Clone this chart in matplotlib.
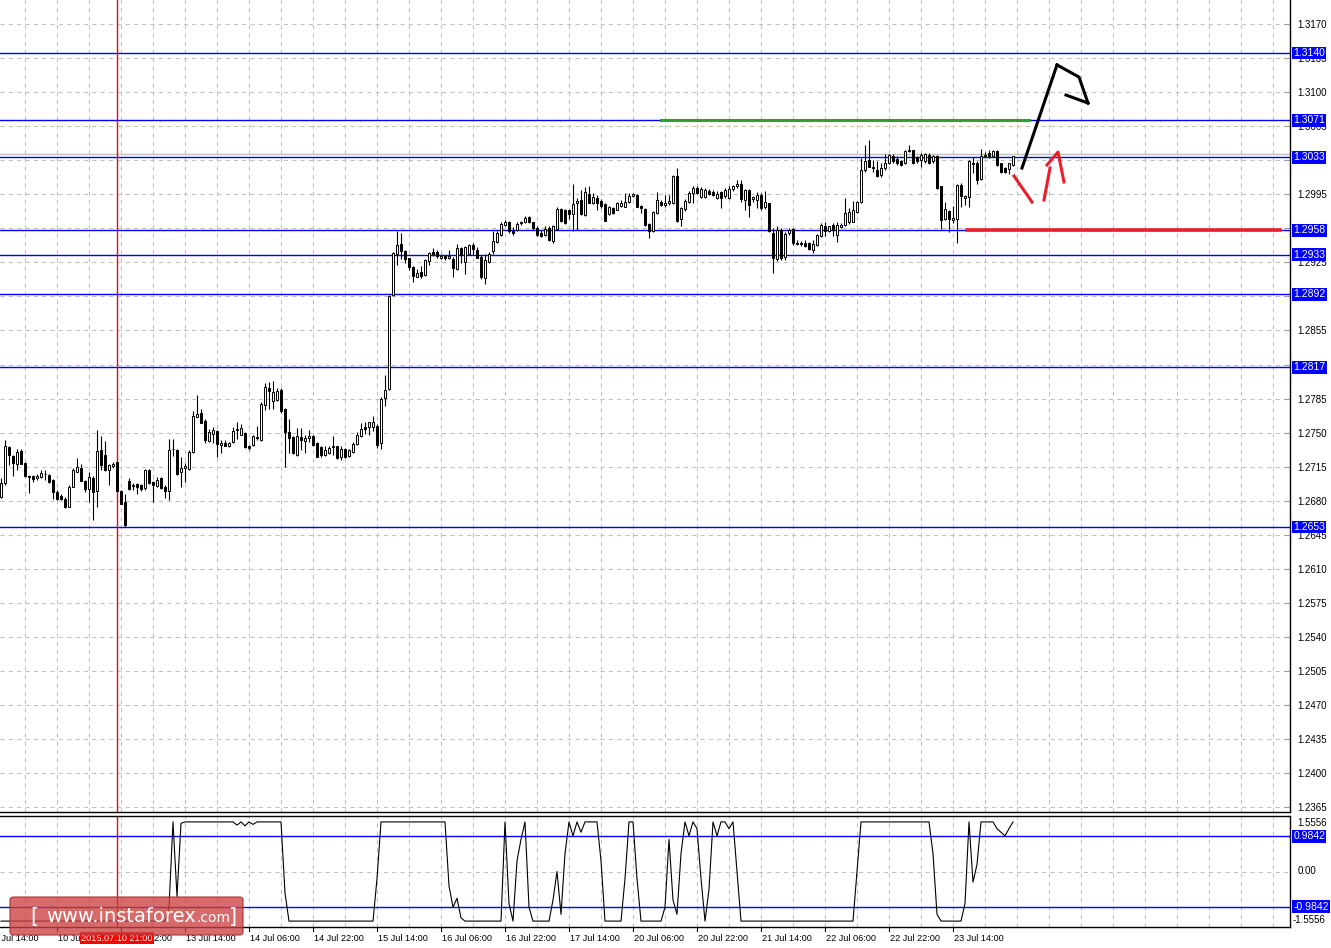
import numpy as np
import matplotlib
matplotlib.use("Agg")
import matplotlib.pyplot as plt
import matplotlib.transforms as mtransforms
from matplotlib.patches import FancyBboxPatch

plt.rcParams['font.family'] = ['Liberation Sans', 'DejaVu Sans']

# hourly candles, 9 Jul 2015 ... 24 Jul 2015
opens = [
    1.2684, 1.2698, 1.2735, 1.2726, 1.2718, 1.2731, 1.2719, 1.2705, 1.2705, 1.2703,
    1.2704, 1.2707, 1.2706, 1.2701, 1.2689, 1.2685, 1.2682, 1.2674, 1.2694, 1.2710,
    1.2714, 1.2700, 1.2692, 1.2703, 1.2690, 1.2732, 1.2727, 1.2712, 1.2716, 1.2720,
    1.2690, 1.2679, 1.2700, 1.2695, 1.2697, 1.2696, 1.2693, 1.2712, 1.2699, 1.2695,
    1.2703, 1.2694, 1.2690, 1.2733, 1.2732, 1.2709, 1.2714, 1.2713, 1.2730, 1.2766,
    1.2770, 1.2762, 1.2741, 1.2749, 1.2752, 1.2737, 1.2739, 1.2736, 1.2740, 1.2753,
    1.2748, 1.2750, 1.2736, 1.2737, 1.2745, 1.2742, 1.2778, 1.2796, 1.2783, 1.2784,
    1.2794, 1.2774, 1.2751, 1.2745, 1.2727, 1.2745, 1.2741, 1.2744, 1.2747, 1.2739,
    1.2735, 1.2727, 1.2729, 1.2735, 1.2736, 1.2725, 1.2733, 1.2726, 1.2730, 1.2738,
    1.2746, 1.2756, 1.2756, 1.2756, 1.2757, 1.2739, 1.2786, 1.2795, 1.2891, 1.2934,
    1.2944, 1.2937, 1.2929, 1.2920, 1.2910, 1.2915, 1.2912, 1.2926, 1.2936, 1.2936,
    1.2930, 1.2932, 1.2929, 1.2928, 1.2918, 1.2940, 1.2925, 1.2934, 1.2943, 1.2938,
    1.2931, 1.2909, 1.2925, 1.2937, 1.2946, 1.2953, 1.2963, 1.2967, 1.2957, 1.2958,
    1.2965, 1.2966, 1.2972, 1.2966, 1.2960, 1.2955, 1.2953, 1.2960, 1.2947, 1.2959,
    1.2980, 1.2979, 1.2979, 1.2975, 1.2986, 1.2989, 1.2974, 1.2995, 1.2986, 1.2991,
    1.2988, 1.2985, 1.2975, 1.2981, 1.2979, 1.2983, 1.2982, 1.2987, 1.2993, 1.2994,
    1.2983, 1.2980, 1.2964, 1.2957, 1.2976, 1.2987, 1.2984, 1.2986, 1.2986, 1.3014,
    1.2970, 1.2980, 1.2987, 1.2996, 1.3001, 1.2992, 1.2992, 1.2998, 1.2997, 1.2991,
    1.2997, 1.2993, 1.2991, 1.3000, 1.3003, 1.3006, 1.2989, 1.2999, 1.2990, 1.2989,
    1.2994, 1.2982, 1.2986, 1.2955, 1.2928, 1.2958, 1.2931, 1.2955, 1.2959, 1.2945,
    1.2945, 1.2945, 1.2945, 1.2938, 1.2943, 1.2952, 1.2962, 1.2957, 1.2963, 1.2953,
    1.2961, 1.2963, 1.2966, 1.2967, 1.2977, 1.2987, 1.3020, 1.3030, 1.3023, 1.3020,
    1.3015, 1.3022, 1.3027, 1.3034, 1.3031, 1.3029, 1.3027, 1.3039, 1.3040, 1.3033,
    1.3030, 1.3029, 1.3035, 1.3029, 1.3034, 1.3003, 1.2970, 1.2978, 1.2969, 1.2970,
    1.3005, 1.2991, 1.2992, 1.3027, 1.3027, 1.3011, 1.3034, 1.3037, 1.3034, 1.3039,
    1.3027, 1.3022, 1.3021, 1.3025,
]
highs = [
    1.2703, 1.2742, 1.2736, 1.2727, 1.2733, 1.2733, 1.2720, 1.2706, 1.2706, 1.2707,
    1.2712, 1.2712, 1.2707, 1.2702, 1.2691, 1.2687, 1.2684, 1.2696, 1.2714, 1.2724,
    1.2718, 1.2701, 1.2710, 1.2705, 1.2753, 1.2746, 1.2741, 1.2718, 1.2720, 1.2720,
    1.2691, 1.2687, 1.2703, 1.2698, 1.2698, 1.2697, 1.2713, 1.2713, 1.2700, 1.2704,
    1.2704, 1.2696, 1.2743, 1.2743, 1.2733, 1.2725, 1.2719, 1.2732, 1.2772, 1.2789,
    1.2774, 1.2764, 1.2754, 1.2756, 1.2753, 1.2742, 1.2742, 1.2740, 1.2756, 1.2761,
    1.2759, 1.2751, 1.2737, 1.2748, 1.2757, 1.2781, 1.2801, 1.2802, 1.2803, 1.2796,
    1.2796, 1.2775, 1.2764, 1.2747, 1.2755, 1.2755, 1.2748, 1.2753, 1.2748, 1.2740,
    1.2736, 1.2736, 1.2736, 1.2746, 1.2736, 1.2736, 1.2734, 1.2733, 1.2740, 1.2751,
    1.2760, 1.2761, 1.2761, 1.2767, 1.2759, 1.2787, 1.2809, 1.2891, 1.2936, 1.2957,
    1.2955, 1.2938, 1.2930, 1.2921, 1.2918, 1.2921, 1.2928, 1.2936, 1.2940, 1.2938,
    1.2934, 1.2933, 1.2938, 1.2931, 1.2944, 1.2941, 1.2942, 1.2944, 1.2945, 1.2941,
    1.2933, 1.2934, 1.2936, 1.2957, 1.2957, 1.2967, 1.2969, 1.2968, 1.2961, 1.2967,
    1.2968, 1.2973, 1.2973, 1.2967, 1.2962, 1.2958, 1.2962, 1.2962, 1.2963, 1.2982,
    1.2981, 1.2980, 1.2980, 1.3006, 1.2991, 1.2999, 1.3002, 1.3003, 1.2996, 1.2994,
    1.2990, 1.2986, 1.2983, 1.2982, 1.2987, 1.2989, 1.2996, 1.2996, 1.2996, 1.2995,
    1.2984, 1.2981, 1.2965, 1.2978, 1.2997, 1.2989, 1.2994, 1.2994, 1.3015, 1.3022,
    1.2982, 1.2990, 1.2998, 1.3003, 1.3003, 1.3002, 1.3001, 1.3000, 1.2999, 1.2998,
    1.2998, 1.3001, 1.3003, 1.3005, 1.3010, 1.3010, 1.3000, 1.3000, 1.2993, 1.2997,
    1.2996, 1.2998, 1.2986, 1.2960, 1.2962, 1.2960, 1.2956, 1.2960, 1.2960, 1.2948,
    1.2947, 1.2948, 1.2946, 1.2948, 1.2954, 1.2965, 1.2966, 1.2962, 1.2965, 1.2967,
    1.2965, 1.2991, 1.2981, 1.2988, 1.2988, 1.3032, 1.3046, 1.3051, 1.3030, 1.3029,
    1.3027, 1.3036, 1.3036, 1.3036, 1.3034, 1.3030, 1.3040, 1.3046, 1.3041, 1.3034,
    1.3037, 1.3037, 1.3037, 1.3035, 1.3035, 1.3004, 1.2987, 1.2979, 1.2983, 1.3006,
    1.3007, 1.2994, 1.3030, 1.3033, 1.3029, 1.3042, 1.3038, 1.3040, 1.3040, 1.3040,
    1.3027, 1.3023, 1.3027, 1.3034,
]
lows = [
    1.2683, 1.2696, 1.2717, 1.2705, 1.2712, 1.2718, 1.2704, 1.2688, 1.2699, 1.2701,
    1.2703, 1.2701, 1.2698, 1.2682, 1.2681, 1.2681, 1.2672, 1.2674, 1.2694, 1.2710,
    1.2700, 1.2689, 1.2679, 1.2660, 1.2674, 1.2712, 1.2711, 1.2696, 1.2714, 1.2690,
    1.2677, 1.2653, 1.2691, 1.2691, 1.2687, 1.2690, 1.2691, 1.2697, 1.2679, 1.2694,
    1.2692, 1.2683, 1.2681, 1.2726, 1.2706, 1.2694, 1.2699, 1.2712, 1.2729, 1.2766,
    1.2760, 1.2739, 1.2740, 1.2739, 1.2725, 1.2729, 1.2736, 1.2735, 1.2739, 1.2743,
    1.2748, 1.2734, 1.2732, 1.2736, 1.2742, 1.2741, 1.2773, 1.2774, 1.2774, 1.2782,
    1.2770, 1.2715, 1.2729, 1.2728, 1.2726, 1.2732, 1.2729, 1.2740, 1.2736, 1.2725,
    1.2725, 1.2726, 1.2728, 1.2727, 1.2723, 1.2722, 1.2724, 1.2725, 1.2729, 1.2737,
    1.2745, 1.2749, 1.2748, 1.2752, 1.2734, 1.2733, 1.2777, 1.2794, 1.2890, 1.2922,
    1.2928, 1.2924, 1.2917, 1.2905, 1.2910, 1.2909, 1.2911, 1.2922, 1.2932, 1.2929,
    1.2928, 1.2927, 1.2928, 1.2910, 1.2917, 1.2924, 1.2913, 1.2933, 1.2933, 1.2929,
    1.2908, 1.2903, 1.2924, 1.2934, 1.2945, 1.2952, 1.2962, 1.2955, 1.2953, 1.2957,
    1.2963, 1.2965, 1.2965, 1.2958, 1.2952, 1.2951, 1.2952, 1.2947, 1.2945, 1.2958,
    1.2967, 1.2964, 1.2970, 1.2957, 1.2958, 1.2974, 1.2973, 1.2986, 1.2985, 1.2979,
    1.2981, 1.2968, 1.2974, 1.2975, 1.2979, 1.2982, 1.2982, 1.2986, 1.2992, 1.2982,
    1.2976, 1.2962, 1.2950, 1.2956, 1.2975, 1.2983, 1.2982, 1.2984, 1.2985, 1.2967,
    1.2962, 1.2978, 1.2986, 1.2986, 1.2995, 1.2991, 1.2991, 1.2994, 1.2993, 1.2990,
    1.2981, 1.2991, 1.2990, 1.2998, 1.3001, 1.2987, 1.2979, 1.2972, 1.2987, 1.2981,
    1.2979, 1.2980, 1.2956, 1.2914, 1.2926, 1.2927, 1.2927, 1.2953, 1.2943, 1.2943,
    1.2942, 1.2941, 1.2938, 1.2935, 1.2942, 1.2951, 1.2952, 1.2956, 1.2952, 1.2946,
    1.2960, 1.2962, 1.2964, 1.2966, 1.2976, 1.2986, 1.3018, 1.3023, 1.3018, 1.3013,
    1.3013, 1.3020, 1.3026, 1.3027, 1.3025, 1.3024, 1.3026, 1.3038, 1.3026, 1.3027,
    1.3023, 1.3027, 1.3026, 1.3027, 1.3000, 1.2959, 1.2969, 1.2956, 1.2965, 1.2945,
    1.2982, 1.2984, 1.2982, 1.3017, 1.3006, 1.3010, 1.3033, 1.3032, 1.3034, 1.3024,
    1.3017, 1.3017, 1.3016, 1.3024,
]
closes = [
    1.2698, 1.2736, 1.2727, 1.2719, 1.2730, 1.2718, 1.2705, 1.2704, 1.2702, 1.2705,
    1.2708, 1.2707, 1.2699, 1.2689, 1.2682, 1.2682, 1.2674, 1.2694, 1.2712, 1.2715,
    1.2700, 1.2692, 1.2704, 1.2689, 1.2731, 1.2717, 1.2712, 1.2717, 1.2718, 1.2690,
    1.2677, 1.2655, 1.2692, 1.2696, 1.2694, 1.2692, 1.2712, 1.2698, 1.2696, 1.2701,
    1.2693, 1.2690, 1.2732, 1.2733, 1.2707, 1.2714, 1.2716, 1.2730, 1.2767, 1.2769,
    1.2760, 1.2742, 1.2751, 1.2753, 1.2738, 1.2739, 1.2736, 1.2739, 1.2752, 1.2753,
    1.2755, 1.2735, 1.2734, 1.2746, 1.2744, 1.2779, 1.2797, 1.2793, 1.2792, 1.2793,
    1.2772, 1.2751, 1.2744, 1.2729, 1.2746, 1.2742, 1.2744, 1.2747, 1.2737, 1.2725,
    1.2727, 1.2732, 1.2734, 1.2736, 1.2724, 1.2733, 1.2725, 1.2732, 1.2738, 1.2748,
    1.2754, 1.2754, 1.2761, 1.2761, 1.2737, 1.2785, 1.2794, 1.2890, 1.2935, 1.2943,
    1.2937, 1.2928, 1.2920, 1.2911, 1.2914, 1.2911, 1.2927, 1.2935, 1.2934, 1.2932,
    1.2932, 1.2929, 1.2932, 1.2919, 1.2940, 1.2933, 1.2941, 1.2943, 1.2939, 1.2930,
    1.2910, 1.2927, 1.2934, 1.2947, 1.2955, 1.2964, 1.2967, 1.2957, 1.2955, 1.2964,
    1.2967, 1.2971, 1.2966, 1.2960, 1.2953, 1.2952, 1.2959, 1.2948, 1.2962, 1.2980,
    1.2968, 1.2965, 1.2975, 1.2985, 1.2988, 1.2975, 1.2997, 1.2986, 1.2992, 1.2986,
    1.2983, 1.2968, 1.2982, 1.2976, 1.2986, 1.2986, 1.2987, 1.2993, 1.2995, 1.2982,
    1.2981, 1.2963, 1.2957, 1.2977, 1.2989, 1.2984, 1.2986, 1.2988, 1.3014, 1.2968,
    1.2981, 1.2988, 1.2996, 1.3001, 1.2996, 1.3000, 1.2999, 1.2995, 1.2994, 1.2995,
    1.2991, 1.2999, 1.3000, 1.3003, 1.3006, 1.2990, 1.2999, 1.2984, 1.2992, 1.2994,
    1.2981, 1.2987, 1.2957, 1.2929, 1.2958, 1.2929, 1.2954, 1.2958, 1.2945, 1.2944,
    1.2944, 1.2942, 1.2939, 1.2944, 1.2953, 1.2963, 1.2957, 1.2962, 1.2958, 1.2963,
    1.2963, 1.2976, 1.2977, 1.2979, 1.2987, 1.3020, 1.3029, 1.3023, 1.3022, 1.3014,
    1.3022, 1.3027, 1.3035, 1.3029, 1.3027, 1.3025, 1.3039, 1.3040, 1.3027, 1.3029,
    1.3035, 1.3036, 1.3027, 1.3034, 1.3001, 1.2969, 1.2980, 1.2970, 1.2971, 1.3005,
    1.2993, 1.2993, 1.3029, 1.3026, 1.3010, 1.3034, 1.3035, 1.3034, 1.3039, 1.3025,
    1.3018, 1.3018, 1.3027, 1.3034,
]

# oscillator in the lower window
osc = ([-1.39] * 42 + [-1.0, 1.39, -0.7, 1.35] + [1.39] * 12
       + [1.39, 1.30, 1.39, 1.28, 1.39, 1.32, 1.39] + [1.39] * 6
       + [-0.6] + [-1.39] * 22 + [-0.2] + [1.39] * 17
       + [-0.4, -1.0, -0.75, -1.3] + [-1.39] * 10
       + [1.39, -0.9, -1.39, 0.3, 0.9, 1.39, -1.0] + [-1.39] * 5
       + [-0.8, 0.0, -1.2, 0.5, 1.39, 1.0, 1.39, 1.1] + [1.39] * 4
       + [0.3] + [-1.39] * 5 + [-0.2, 1.39, 1.39, -0.2] + [-1.39] * 6
       + [-1.0, 0.9, -0.8, -1.2, 0.5, 1.39, 1.0, 1.39, 1.2, -0.2, -1.39, -0.5,
          1.39, 1.0, 1.39, 1.39, 1.2, 1.39, 0.0]
       + [-1.39] * 29 + [0.0] + [1.39] * 18 + [0.5, -1.2] + [-1.39] * 6
       + [-0.9, 1.39, -0.3, 0.2] + [1.39] * 4 + [1.2, 1.1, 1.0, 1.2, 1.39])

levels = [1.3140, 1.3071, 1.3033, 1.2958, 1.2933, 1.2892, 1.2817, 1.2653]
price_ticks = [1.3170, 1.3135, 1.3100, 1.3065, 1.3030, 1.2995, 1.2960, 1.2925,
               1.2890, 1.2855, 1.2820, 1.2785, 1.2750, 1.2715, 1.2680, 1.2645,
               1.2610, 1.2575, 1.2540, 1.2505, 1.2470, 1.2435, 1.2400, 1.2365]
bid = 1.3036

time_bars = [-2, 14, 30, 46, 62, 78, 94, 110, 126, 142, 158, 174, 190, 206, 222, 238]
time_labels = ['9 Jul 14:00', '10 Jul 06:00', '10 Jul 22:00', '13 Jul 14:00',
               '14 Jul 06:00', '14 Jul 22:00', '15 Jul 14:00', '16 Jul 06:00',
               '16 Jul 22:00', '17 Jul 14:00', '20 Jul 06:00', '20 Jul 22:00',
               '21 Jul 14:00', '22 Jul 06:00', '22 Jul 22:00', '23 Jul 14:00']
marker_bar = 29
marker_label = '2015.07.10 21:00'

osc_levels = [0.9842, -0.9842]
osc_limit = 1.5556

# hand drawn forecast
green_x, green_y = [165, 257], [1.3071, 1.3071]
red_x, red_y = [241.5, 319.75], [1.2958, 1.2958]
black_path_x = [255.25, 264.0]
black_path_y = [1.3022, 1.3128]
black_head_x = [264.0, 269.5, 271.75, 266.25]
black_head_y = [1.3128, 1.31155, 1.30888, 1.3097]
red_down_x, red_down_y = [253.25, 257.75], [1.30138, 1.2987]
red_up_x = [260.75, 262.25]
red_up_y = [1.29891, 1.3022]
red_head_x = [261.5, 264.25, 265.75]
red_head_y = [1.30251, 1.30384, 1.30076]

W, H = 1331, 948
fig = plt.figure(figsize=(W / 100, H / 100), dpi=100)
ax = fig.add_axes([0, 136 / H, 1290 / W, 812 / H])
ax2 = fig.add_axes([0, 21 / H, 1290 / W, 111 / H])

xlim = (-0.25, 322.25)
grid_kw = dict(color='#c0c0c0', lw=0.75, ls=(0, (4, 4)), zorder=0)
vgrid = np.arange(6, 323, 8)
box_kw = dict(boxstyle='square,pad=0.12', fc='#0000ff', ec='none')

# ---- price window
x = np.arange(len(closes))
o = np.array(opens)
c = np.array(closes)
bottoms = np.minimum(o, c)
heights = np.maximum(np.abs(c - o), 0.00002)
fills = ['white' if cc >= oo else 'black' for oo, cc in zip(o, c)]

for p in price_ticks:
    ax.axhline(p, **grid_kw)
for v in vgrid:
    ax.axvline(v, **grid_kw)

for lv in levels:
    ax.axhline(lv, color='#0000ff', lw=1.0, zorder=2)
ax.axhline(bid, color='#c0c0c0', lw=1.0, zorder=2)
ax.axvline(marker_bar, color='#ff0000', lw=1.0, zorder=2)

ax.vlines(x, lows, highs, color='black', lw=0.8, zorder=3)
ax.bar(x, heights, bottom=bottoms, width=0.62, color=fills,
       edgecolor='black', linewidth=0.7, zorder=4)

ax.plot(green_x, green_y, color='#2ca02c', lw=2.2, zorder=5)
ax.plot(red_x, red_y, color='#e8202a', lw=2.6, zorder=5)
ax.plot(black_path_x, black_path_y, color='black', lw=2.2, zorder=5)
ax.plot(black_head_x[:3], black_head_y[:3], color='black', lw=2.2, zorder=5)
ax.plot(black_head_x[2:], black_head_y[2:], color='black', lw=2.2, zorder=5)
ax.plot(red_down_x, red_down_y, color='#e8202a', lw=2.2, zorder=5)
ax.plot(red_up_x, red_up_y, color='#e8202a', lw=2.2, zorder=5)
ax.plot(red_head_x, red_head_y, color='#e8202a', lw=2.2, zorder=5)

ax.set_xlim(*xlim)
ax.set_ylim(1.2360, 1.31947)
ax.set_xticks([])
ax.yaxis.tick_right()
ax.set_yticks(price_ticks)
ax.set_yticklabels(['%.4f' % p for p in price_ticks])
ax.tick_params(axis='y', direction='in', length=4, color='#a0a0a0',
               pad=5, labelsize=7)
for s in ['left', 'top']:
    ax.spines[s].set_visible(False)
for s in ['right', 'bottom']:
    ax.spines[s].set_color('black')
    ax.spines[s].set_linewidth(1.0)

trans = mtransforms.blended_transform_factory(ax.transAxes, ax.transData)
for lv in levels:
    ax.text(1.0025, lv, '%.4f' % lv, transform=trans, color='white',
            fontsize=7.5, va='center', ha='left', zorder=10, clip_on=False,
            bbox=box_kw)

# ---- oscillator window
for v in vgrid:
    ax2.axvline(v, **grid_kw)
ax2.axhline(0, **grid_kw)
for lv in osc_levels:
    ax2.axhline(lv, color='#0000ff', lw=1.0, zorder=2)
ax2.axvline(marker_bar, color='#ff0000', lw=1.0, zorder=2)
ax2.plot(x, osc, color='black', lw=0.8, zorder=3)
ax2.set_xlim(*xlim)
ax2.set_ylim(-osc_limit, osc_limit)
ax2.set_xticks([])
ax2.set_yticks([])
ax2.spines['left'].set_visible(False)
for s in ['right', 'bottom', 'top']:
    ax2.spines[s].set_color('black')
    ax2.spines[s].set_linewidth(1.0)

trans2 = mtransforms.blended_transform_factory(ax2.transAxes, ax2.transData)
ax2.text(1.006, osc_limit * 0.97, '%.4f' % osc_limit, transform=trans2,
         fontsize=7, va='top', ha='left', clip_on=False)
ax2.text(1.006, 0, '0.00', transform=trans2, fontsize=7, va='center',
         ha='left', clip_on=False)
ax2.text(1.002, -osc_limit * 0.97, '%.4f' % -osc_limit, transform=trans2,
         fontsize=7, va='bottom', ha='left', clip_on=False)
for lv in osc_levels:
    ax2.text(1.0025, lv, '%.4f' % lv, transform=trans2, color='white',
             fontsize=7.5, va='center', ha='left', zorder=10, clip_on=False,
             bbox=box_kw)

# time axis
tx = mtransforms.blended_transform_factory(ax2.transData, ax2.transAxes)
for b, lab in zip(time_bars, time_labels):
    ax2.plot([b, b], [0, -0.04], color='black', lw=0.8, transform=tx,
             clip_on=False)
    ax2.text(b + 0.3, -0.1, lab, transform=tx, fontsize=6.6, va='center',
             ha='left', clip_on=False)
ax2.text(marker_bar, -0.1, marker_label, transform=tx, fontsize=6.6,
         va='center', ha='center', color='white', zorder=10, clip_on=False,
         bbox=dict(boxstyle='square,pad=0.15', fc='#ff0000', ec='none'))

# watermark
wm = FancyBboxPatch((10 / W, 13 / H), 233 / W, 38 / H,
                    boxstyle='round,pad=0,rounding_size=0.003',
                    transform=fig.transFigure, fc=(0.80, 0.25, 0.25),
                    ec=(0.65, 0.2, 0.2), alpha=0.78, zorder=20)
fig.patches.append(wm)
fig.text(30 / W, 31 / H, '[', fontsize=15, color='white', va='center',
         ha='left', family='DejaVu Sans', zorder=21)
fig.text(196 / W, 31 / H, 'www.instaforex', fontsize=14, color='white',
         va='center', ha='right', family='DejaVu Sans', zorder=21)
fig.text(196 / W, 29.5 / H, '.com', fontsize=10, color='white',
         va='center', ha='left', family='DejaVu Sans', zorder=21)
fig.text(229 / W, 31 / H, ']', fontsize=15, color='white', va='center',
         ha='left', family='DejaVu Sans', zorder=21)

fig.savefig('out.png', dpi=100)
